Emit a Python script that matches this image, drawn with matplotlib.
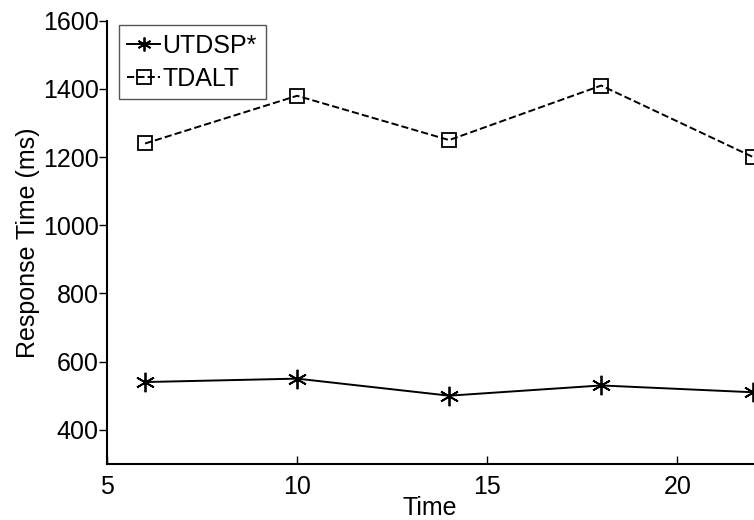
import matplotlib
matplotlib.use('Agg')
import matplotlib.pyplot as plt

# data
time = [6, 10, 14, 18, 22]
utdsp = [540, 550, 500, 530, 510]
tdalt = [1240, 1380, 1250, 1410, 1200]

plt.rcParams['font.family'] = ['Liberation Sans', 'DejaVu Sans']

fig = plt.figure(figsize=(7.54, 5.2), dpi=100)
ax = fig.add_axes([0.142, 0.108, 0.857, 0.852])

ax.plot(time, utdsp, '-', color='black', lw=1.4, marker=(6, 2, 0),
        ms=14, mew=1.3, label='UTDSP*', clip_on=False)
ax.plot(time, tdalt, '--', color='black', lw=1.4, marker='s', ms=10,
        mfc='none', mew=1.3, label='TDALT', clip_on=False)

ax.set_xlim(5, 22)
ax.set_ylim(300, 1600)
ax.set_xticks([5, 10, 15, 20])
ax.set_yticks([400, 600, 800, 1000, 1200, 1400, 1600])
ax.spines['top'].set_visible(False)
ax.spines['right'].set_visible(False)
ax.spines['left'].set_linewidth(1.5)
ax.spines['bottom'].set_linewidth(1.5)
ax.tick_params(axis='x', direction='in', length=6, width=1, labelsize=18, pad=8)
ax.tick_params(axis='y', direction='out', length=6, width=1, labelsize=18, pad=0)

ax.set_xlabel('Time', fontsize=18, labelpad=-2)
ax.set_ylabel('Response Time (ms)', fontsize=18, labelpad=2)

leg = ax.legend(loc='upper left', fontsize=18, handlelength=1.3, handletextpad=0.1,
                borderpad=0.35, labelspacing=0.35, fancybox=False, framealpha=1,
                edgecolor='#555555', bbox_to_anchor=(0.018, 0.99), borderaxespad=0)
leg.get_frame().set_linewidth(1.0)
for h in leg.legend_handles:
    h.set_markersize(10)

fig.savefig('out.png', dpi=100)
